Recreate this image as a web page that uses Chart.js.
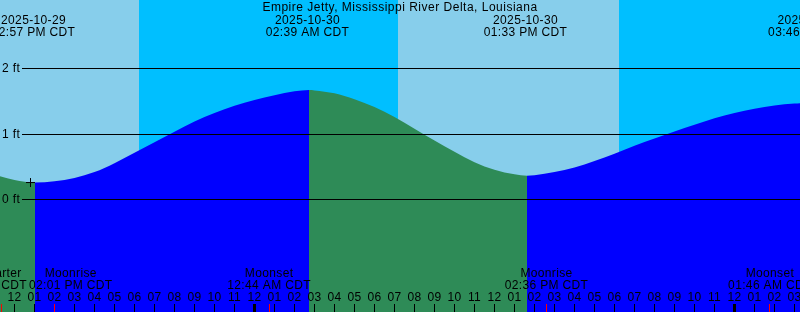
<!DOCTYPE html>
<html>
<head>
<meta charset="utf-8">
<script src="https://cdn.jsdelivr.net/npm/chart.js@4.4.0/dist/chart.umd.min.js"></script>
<style>
    html, body { margin: 0; padding: 0; background: #fff; }
    #tideChart { display: block; }
</style>
</head>
<body>
<canvas id="tideChart" width="800" height="312"></canvas>
<script>
const stationName = "Empire Jetty, Mississippi River Delta, Louisiana";

// all times are hours since 2025-10-29 00:00 CDT
const tideHours = [11, 12, 13.025, 14, 15, 16, 17, 18, 19, 20, 21, 22, 23, 24, 25, 26, 26.725, 27, 28, 29, 30, 31, 32, 33, 34, 35, 36, 37, 37.625, 38, 39, 40, 41, 42, 43, 44, 45, 46, 47, 48, 49, 50, 51, 52];
const tideFeet = [0.38, 0.3, 0.26, 0.28, 0.33, 0.42, 0.555, 0.715, 0.875, 1.035, 1.19, 1.32, 1.43, 1.52, 1.59, 1.65, 1.67, 1.665, 1.62, 1.53, 1.41, 1.26, 1.08, 0.9, 0.73, 0.57, 0.455, 0.385, 0.365, 0.37, 0.42, 0.49, 0.59, 0.7, 0.82, 0.93, 1.04, 1.14, 1.24, 1.32, 1.385, 1.435, 1.465, 1.48];

const extremeHours = [12.95, 26.65, 37.55, 51.77];
const extremeDates = ["2025-10-29", "2025-10-30", "2025-10-30", "2025-10-31"];
const extremeTimes = ["12:57 PM CDT", "02:39 AM CDT", "01:33 PM CDT", "03:46 AM CDT"];

const moonHours = [11.35, 14.02, 24.73, 38.6, 49.77];
const moonEvents = ["First Quarter", "Moonrise", "Moonset", "Moonrise", "Moonset"];
const moonTimes = ["11:21 AM CDT", "02:01 PM CDT", "12:44 AM CDT", "02:36 PM CDT", "01:46 AM CDT"];

const daylightStart = [7.17, 31.2];
const daylightEnd = [18.23, 42.23];

const heightTicks = [0, 1, 2];

const nowHour = 12.8;
const nowFeet = 0.26;

const DAY_COLOR = "#87ceeb";
const NIGHT_COLOR = "#00bfff";
const RISING_COLOR = "#0000ff";
const FALLING_COLOR = "#2e8b57";
const FONT = "12px 'Liberation Sans', Arial, sans-serif";

function hourLabel(h) {
    const v = ((h % 12) + 12) % 12 || 12;
    return String(v).padStart(2, "0");
}

function layoutMoonLabels(ctx, xScale) {
    const boxes = moonHours.map((h, i) => {
        const w = Math.max(ctx.measureText(moonEvents[i]).width, ctx.measureText(moonTimes[i]).width);
        return { center: xScale.getPixelForValue(h), width: w };
    });
    // push overlapping labels apart
    for (let i = 1; i < boxes.length; i++) {
        const prev = boxes[i - 1];
        const cur = boxes[i];
        const overlap = prev.center + prev.width / 2 - (cur.center - cur.width / 2) + 2;
        if (overlap > 0) {
            prev.center -= overlap / 2;
            cur.center += overlap / 2;
        }
    }
    return boxes;
}

const tideDecor = {
    id: "tideDecor",
    beforeDatasetsDraw(chart) {
        const { ctx, chartArea, scales: { x } } = chart;
        ctx.save();
        ctx.fillStyle = NIGHT_COLOR;
        ctx.fillRect(chartArea.left, chartArea.top, chartArea.width, chartArea.height);
        ctx.fillStyle = DAY_COLOR;
        daylightStart.forEach((start, i) => {
            const x0 = Math.round(x.getPixelForValue(start));
            const x1 = Math.round(x.getPixelForValue(daylightEnd[i]));
            ctx.fillRect(x0, chartArea.top, x1 - x0, chartArea.height);
        });
        ctx.restore();
    },
    afterDatasetsDraw(chart) {
        const { ctx, chartArea, scales: { x, y } } = chart;
        ctx.save();
        ctx.font = FONT;
        ctx.letterSpacing = "0.35px";
        ctx.fillStyle = "#000";
        ctx.strokeStyle = "#000";
        ctx.lineWidth = 1;

        // height grid lines with labels
        ctx.textAlign = "left";
        ctx.textBaseline = "middle";
        heightTicks.forEach((ft) => {
            const py = Math.floor(y.getPixelForValue(ft)) + 0.5;
            ctx.beginPath();
            ctx.moveTo(22, py);
            ctx.lineTo(chartArea.right, py);
            ctx.stroke();
            ctx.fillText(ft + " ft", 2, py);
        });

        // title and high/low labels
        ctx.textAlign = "center";
        ctx.letterSpacing = "0.5px";
        ctx.fillText(stationName, 400, 7.5);
        ctx.letterSpacing = "0.35px";
        extremeHours.forEach((h, i) => {
            const px = x.getPixelForValue(h);
            ctx.fillText(extremeDates[i], px, 20.5);
            ctx.fillText(extremeTimes[i], px, 32.5);
        });

        // hour ticks and labels
        const first = Math.ceil(x.min);
        for (let h = first; h <= Math.floor(x.max); h++) {
            const px = Math.floor(x.getPixelForValue(h)) + 0.5;
            const midnight = h % 24 === 0;
            ctx.lineWidth = midnight ? 3 : 1;
            ctx.beginPath();
            ctx.moveTo(px, 304);
            ctx.lineTo(px, chartArea.bottom);
            ctx.stroke();
            ctx.fillText(hourLabel(h), px, 297.5);
        }

        // moon events
        ctx.lineWidth = 1;
        ctx.strokeStyle = "#ff0000";
        moonHours.forEach((h) => {
            const px = Math.floor(x.getPixelForValue(h)) + 0.5;
            ctx.beginPath();
            ctx.moveTo(px, 304);
            ctx.lineTo(px, chartArea.bottom);
            ctx.stroke();
        });
        const boxes = layoutMoonLabels(ctx, x);
        boxes.forEach((b, i) => {
            ctx.fillText(moonEvents[i], b.center, 273.5);
            ctx.fillText(moonTimes[i], b.center, 286);
        });
        ctx.restore();
    },
};

const tidePoints = tideHours.map((h, i) => ({ x: h, y: tideFeet[i] }));

new Chart(document.getElementById("tideChart"), {
    type: "line",
    data: {
        datasets: [
            {
                label: "now",
                data: [{ x: nowHour, y: nowFeet }],
                showLine: false,
                pointStyle: "cross",
                pointRadius: 4.5,
                pointBorderColor: "#000",
                pointBorderWidth: 1,
                fill: false,
            },
            {
                label: "Tide",
                data: tidePoints,
                cubicInterpolationMode: "monotone",
                pointRadius: 0,
                borderWidth: 1,
                borderColor: "rgba(0,0,0,0)",
                backgroundColor: RISING_COLOR,
                fill: "start",
                segment: {
                    backgroundColor: (c) => (c.p1.parsed.y > c.p0.parsed.y ? RISING_COLOR : FALLING_COLOR),
                },
            },
        ],
    },
    options: {
        responsive: false,
        animation: false,
        devicePixelRatio: 1,
        layout: { padding: 0, autoPadding: false },
        scales: {
            x: { type: "linear", min: 11.275, max: 51.275, display: false },
            y: { min: -1.7134, max: 3.0427, display: false },
        },
        plugins: {
            legend: { display: false },
            tooltip: { enabled: false },
        },
    },
    plugins: [tideDecor],
});
</script>
</body>
</html>
